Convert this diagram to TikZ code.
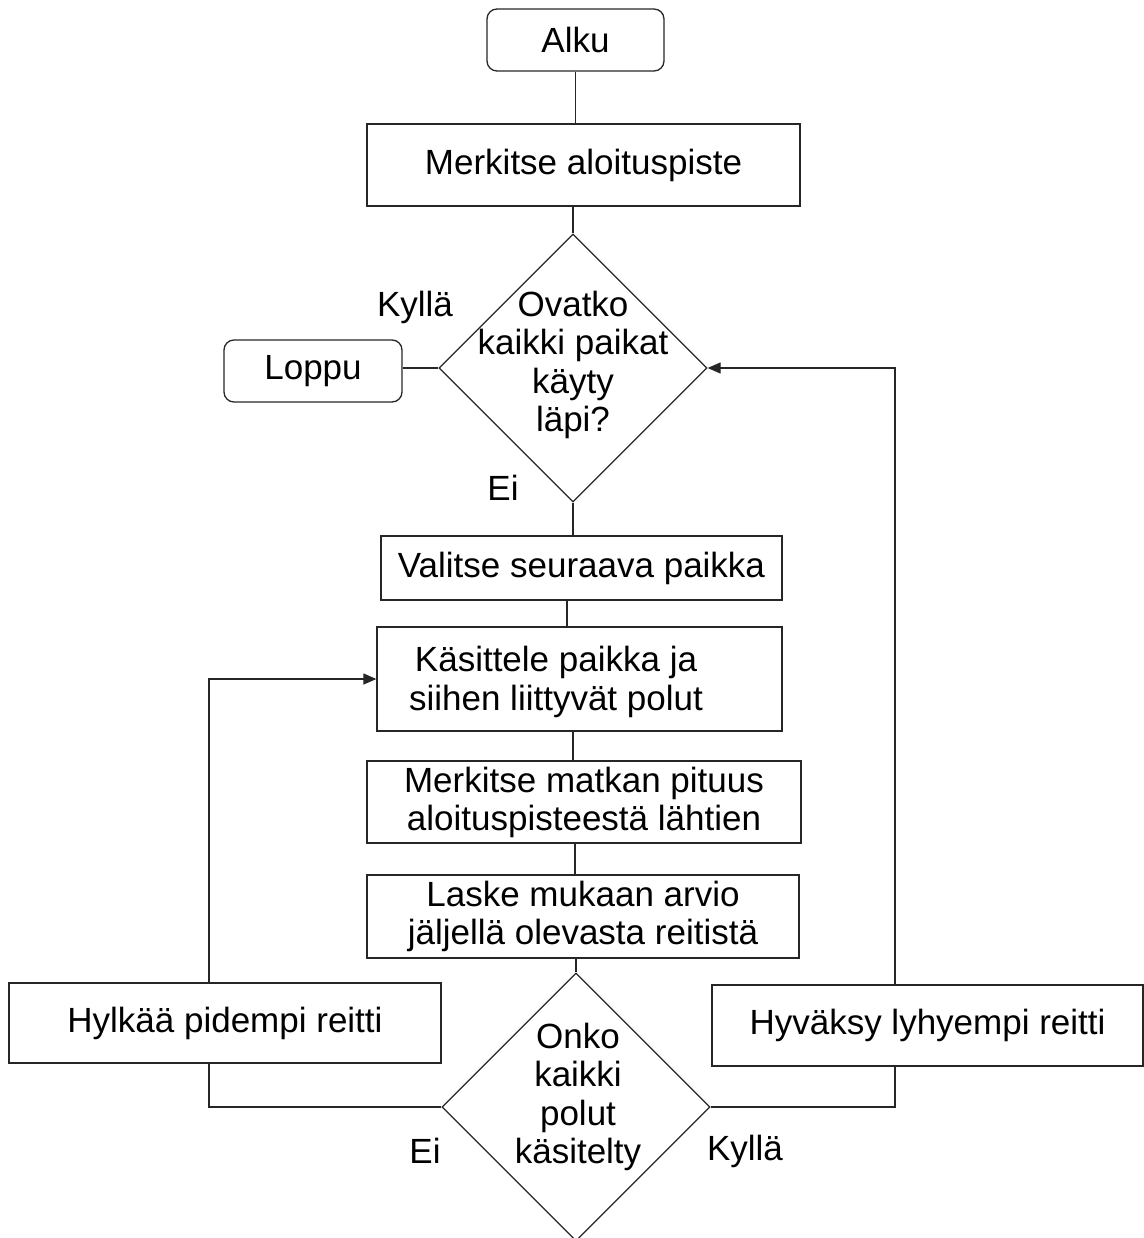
\documentclass[tikz,border=0pt]{standalone}
\usepackage{fontspec}
\setmainfont{Liberation Sans}
\usetikzlibrary{arrows.meta,shapes.geometric}

\tikzset{
  line/.style={draw=black!85, line width=1.3pt},
  arr/.style={line, -{Triangle[length=13pt,width=11pt]}},
  procbox/.style={line, rectangle, inner sep=0pt, font=\fontsize{35}{38}\selectfont, align=center},
  termbox/.style={procbox, rounded corners=10pt},
  decision/.style={line, diamond, inner sep=0pt, minimum width=268pt, minimum height=268pt},
  txt/.style={inner sep=0pt, font=\fontsize{35}{38.5}\selectfont, align=center},
}

\begin{document}
\begin{tikzpicture}[x=1pt, y=-1pt]
  \useasboundingbox (0,0) rectangle (1143,1238);

  % main column
  \node[termbox, minimum width=177pt, minimum height=62pt] (alku) at (575.5,40) {Alku};
  \node[procbox, minimum width=433pt, minimum height=82pt] (merk) at (583.5,165) {Merkitse aloituspiste};
  \node[decision] (d1) at (573,368) {};
  \node[txt] (d1t) at (573,365) {Ovatko\\kaikki paikat\\käyty\\läpi?};
  \node[termbox, minimum width=178pt, minimum height=62pt] (loppu) at (313,371) {Loppu};
  \node[procbox, minimum width=401pt, minimum height=64pt] (valitse) at (581.5,568) {Valitse seuraava paikka};
  \node[procbox, minimum width=405pt, minimum height=104pt] (kas) at (579.5,679) {};
  \node[txt] (kast) at (556,682) {Käsittele paikka ja\\siihen liittyvät polut};
  \node[procbox, minimum width=434pt, minimum height=82pt] (mat) at (584,802) {Merkitse matkan pituus\\aloituspisteestä lähtien};
  \node[procbox, minimum width=432pt, minimum height=83pt] (laske) at (583,916.5) {Laske mukaan arvio\\jäljellä olevasta reitistä};
  \node[decision] (d2) at (576,1107) {};
  \node[txt] (d2t) at (578,1097) {Onko\\kaikki\\polut\\käsitelty};

  % side boxes
  \node[procbox, minimum width=432pt, minimum height=80pt] (hyl) at (225,1023) {Hylkää pidempi reitti};
  \node[procbox, minimum width=431pt, minimum height=81pt] (hyv) at (927.5,1025.5) {Hyväksy lyhyempi reitti};
  \coordinate (rx) at (895,0);
  \coordinate (lx) at (209,0);

  % branch labels
  \node[txt] (kylla1) at (415,307) {Kyllä};
  \node[txt] (ei1) at (503,488) {Ei};
  \node[txt] (ei2) at (425,1151) {Ei};
  \node[txt] (kylla2) at (745,1151) {Kyllä};

  % connectors
  \draw[line] (alku.south) -- (alku.south |- merk.north);
  \draw[line] (merk.south -| d1.north) -- (d1.north);
  \draw[line] (d1.west) -- (d1.west -| loppu.east);
  \draw[line] (d1.south) -- (d1.south |- valitse.north);
  \draw[line] (valitse.south -| 567,0) -- (kas.north -| 567,0);
  \draw[line] (kas.south -| 573,0) -- (mat.north -| 573,0);
  \draw[line] (mat.south -| 575,0) -- (laske.north -| 575,0);
  \draw[line] (laske.south -| d2.north) -- (d2.north);

  \draw[line] (d2.west) -| (lx |- hyl.south);
  \draw[arr] (lx |- hyl.north) |- (kas.west);

  \draw[line] (d2.east) -| (rx |- hyv.south);
  \draw[arr] (rx |- hyv.north) |- (d1.east);
\end{tikzpicture}
\end{document}
